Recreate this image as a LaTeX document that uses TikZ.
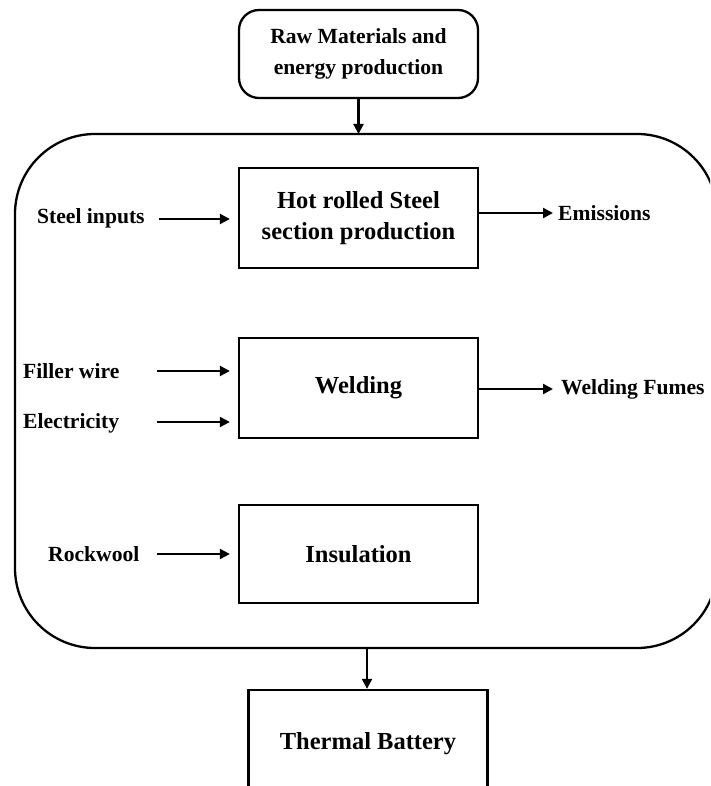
\documentclass[tikz,border=0pt]{standalone}
\usepackage{fontspec}
\setmainfont{Liberation Serif}
\usetikzlibrary{arrows.meta,positioning}
\tikzset{
  boxline/.style={draw=black,line width=2.3pt},
  procbox/.style={boxline,minimum width=239pt,minimum height=100pt,inner sep=0pt,
     font=\fontsize{24.5}{29}\selectfont\bfseries,align=center},
  sidelabel/.style={inner sep=0pt,font=\fontsize{21.6}{26}\selectfont\bfseries},
  flow/.style={line width=2.2pt,-{Triangle[length=10pt,width=10pt]}},
}
\begin{document}
\begin{tikzpicture}[x=1pt,y=-1pt]
\useasboundingbox (0,0) rectangle (710,786);
\clip (0,0) rectangle (710,786);
% top box
\node[boxline,rounded corners=20pt,minimum width=239pt,minimum height=88pt,inner sep=0pt,
  align=center,font=\fontsize{21.6}{31}\selectfont\bfseries] (raw) at (358.5,54) {Raw Materials and\\energy production};
% enclosing rounded rectangle
\draw[boxline,rounded corners=80pt] (15,134) rectangle (717,648);
\coordinate (encTop) at (358.5,134);
\coordinate (encBot) at (367,648);
% process boxes
\node[procbox,font=\fontsize{24.5}{31}\selectfont\bfseries] (hot) at (358.5,218) {Hot rolled Steel\\section production};
\node[procbox] (weld) at (358.5,388) {Welding};
\node[procbox,minimum height=98pt] (ins) at (358.5,554) {Insulation};
\node[procbox,minimum height=108pt] (tb) at (368,744) {Thermal Battery};
% side labels
\node[sidelabel,anchor=west] (steel) at (37,218) {Steel inputs};
\node[sidelabel,anchor=west] (filler) at (23,371) {Filler wire};
\node[sidelabel,anchor=west] (elec) at (23,423) {Electricity};
\node[sidelabel,anchor=west] (rock) at (48,554) {Rockwool};
\node[sidelabel,anchor=west] (emis) at (558,213) {Emissions};
\node[sidelabel,anchor=west] (fumes) at (561,389) {Welding Fumes};
% arrow starts
\coordinate (steelS) at (159,219);
\coordinate (fillerS) at (157,371);
\coordinate (elecS) at (157,422);
\coordinate (rockS) at (157,554);
% connectors
\draw[flow] (raw.south) -- (raw.south |- encTop);
\draw[flow,shorten >=8pt] (steelS) -- (steelS -| hot.west);
\draw[flow,shorten >=8pt] (fillerS) -- (fillerS -| weld.west);
\draw[flow,shorten >=8pt] (elecS) -- (elecS -| weld.west);
\draw[flow,shorten >=8pt] (rockS) -- (rockS -| ins.west);
\draw[flow] (hot.east |- emis.west) -- ([xshift=-5pt]emis.west);
\draw[flow] (weld.east |- fumes.west) -- ([xshift=-8pt]fumes.west);
\draw[flow] (encBot) -- (encBot |- tb.north);
\end{tikzpicture}
\end{document}
